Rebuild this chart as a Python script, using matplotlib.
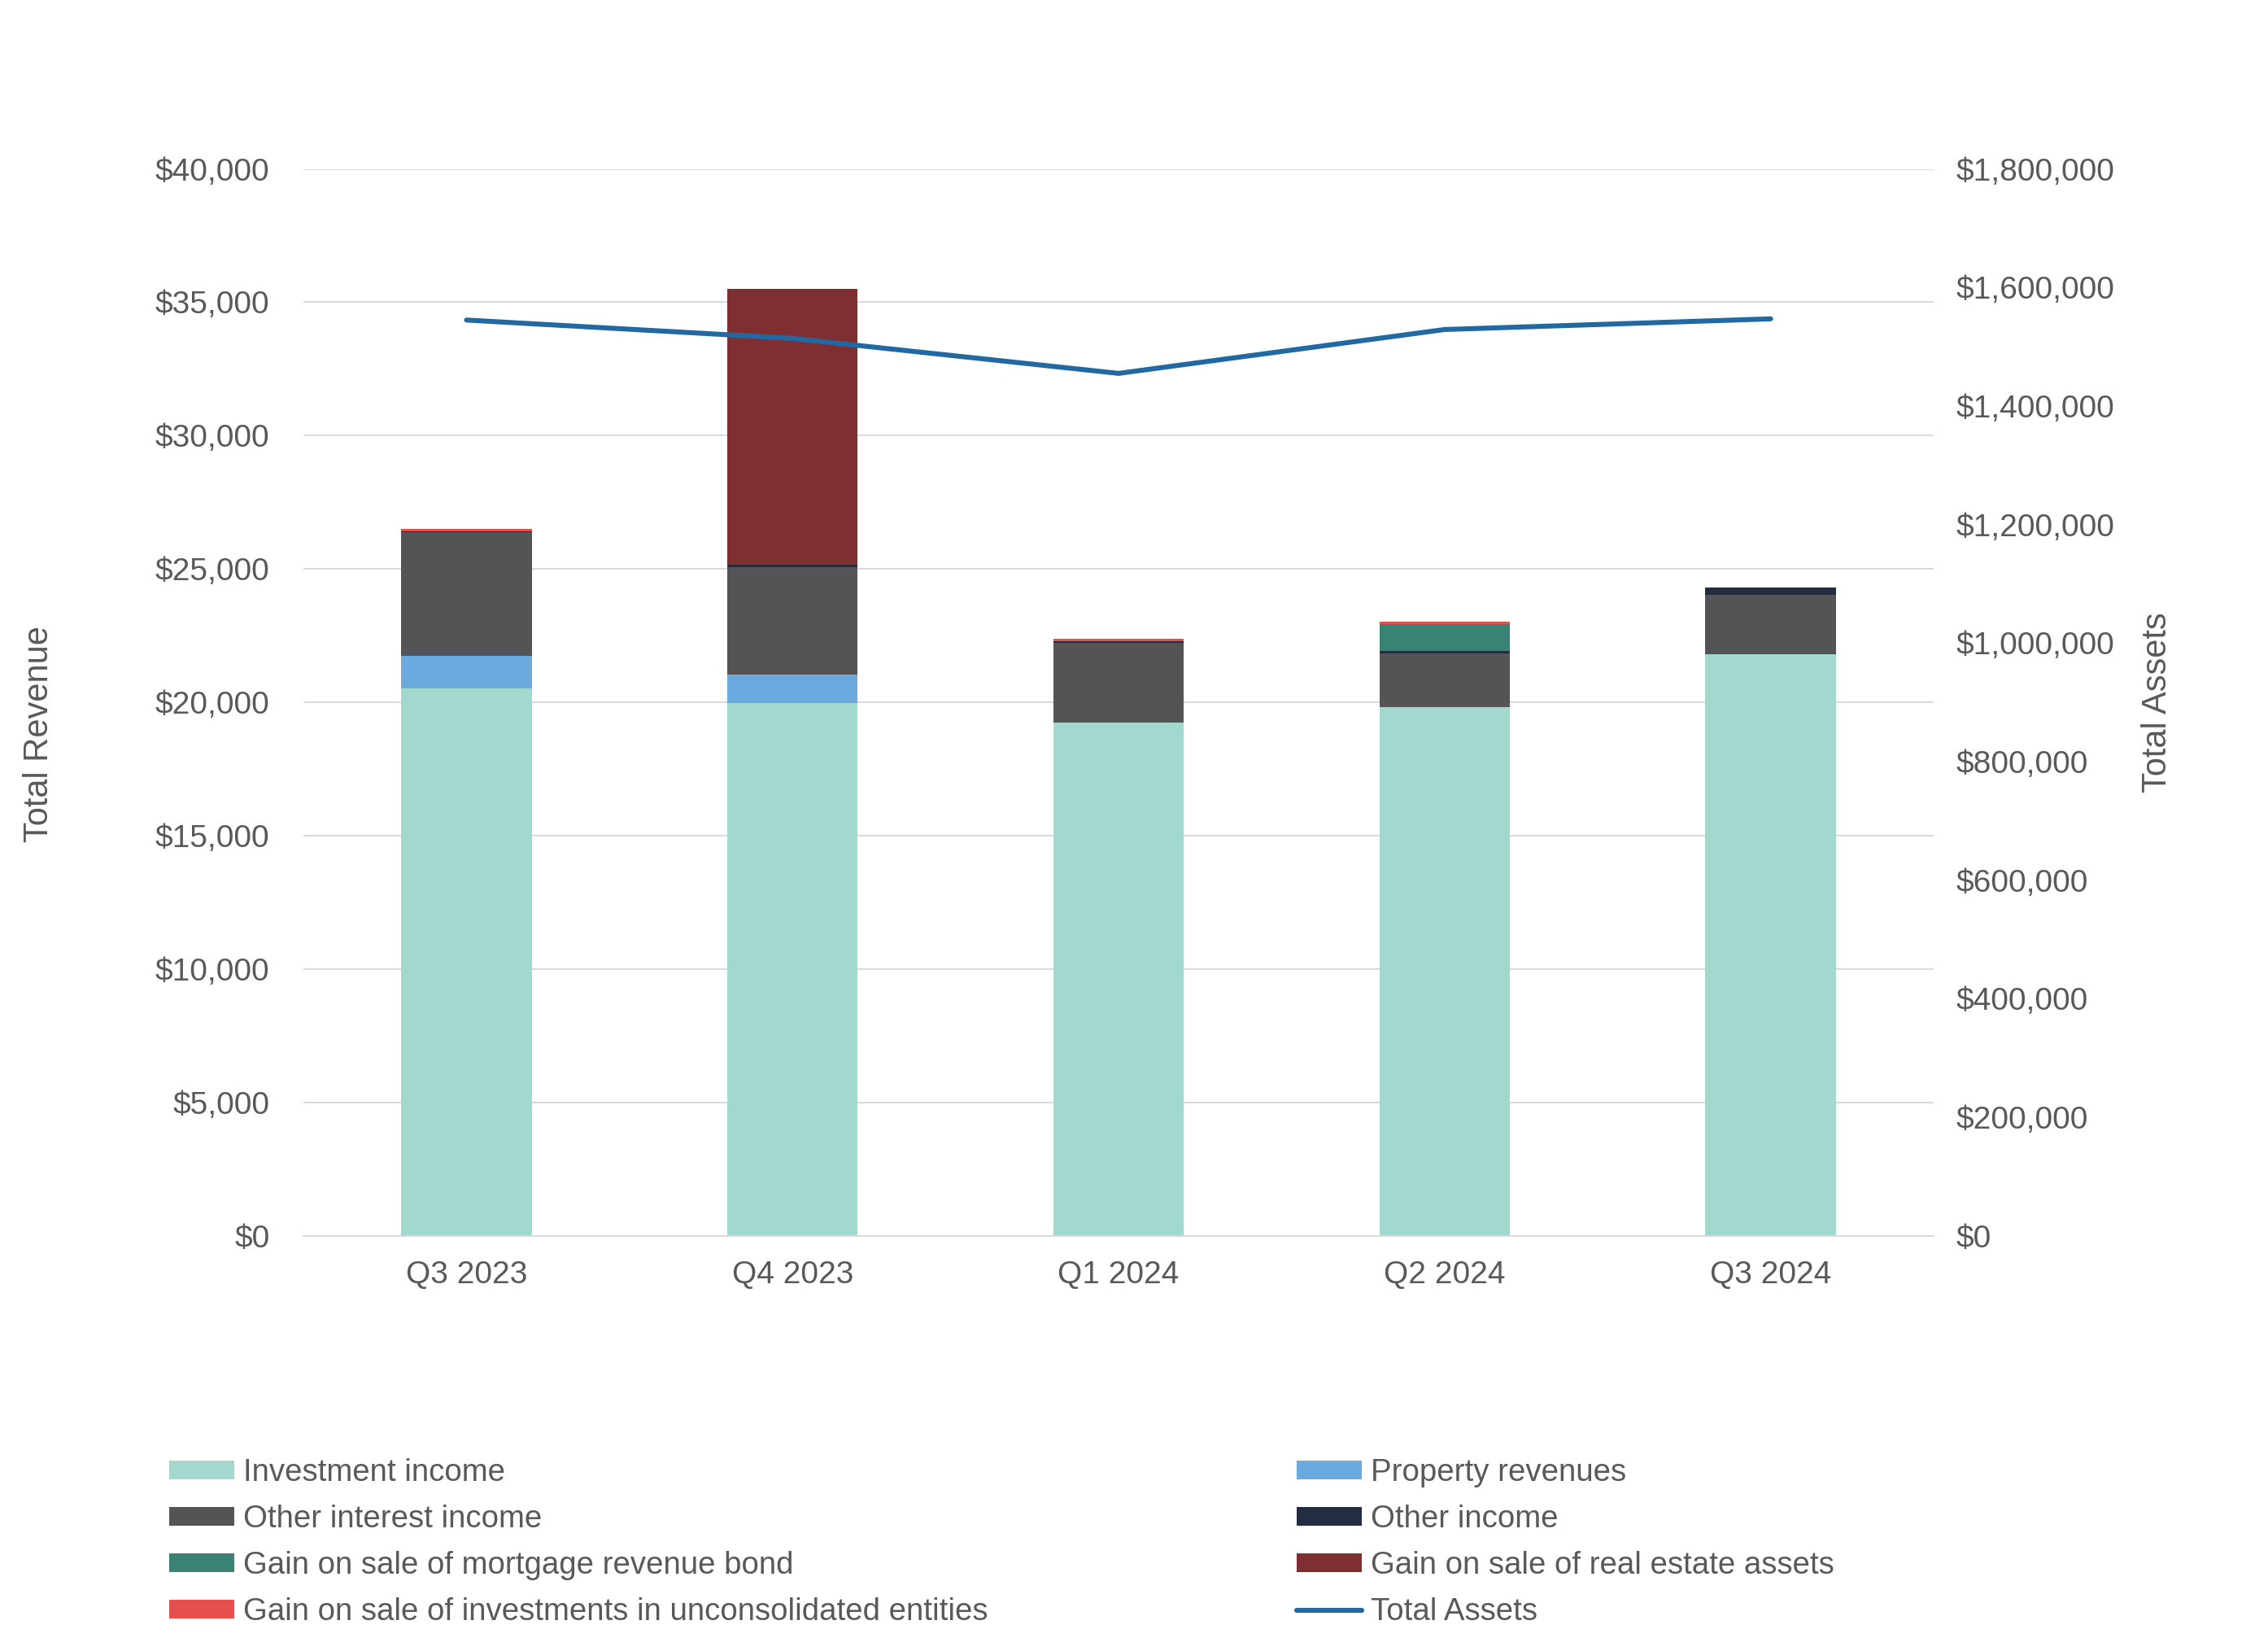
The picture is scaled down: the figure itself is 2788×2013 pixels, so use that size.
import numpy as np
import matplotlib.pyplot as plt
from matplotlib.patches import Patch
from matplotlib.lines import Line2D
from matplotlib.ticker import FuncFormatter

# donnees (en milliers de $ pour les barres)
quarters = ["Q3 2023", "Q4 2023", "Q1 2024", "Q2 2024", "Q3 2024"]
investment_income = [20520, 19980, 19250, 19810, 21820]
property_revenues = [1220, 1050, 0, 0, 0]
other_interest_income = [4640, 4040, 2980, 2040, 2210]
other_income = [30, 100, 70, 80, 280]
gain_mrb = [0, 0, 0, 1000, 0]
gain_real_estate = [0, 10340, 0, 0, 0]
gain_unconsolidated = [80, 0, 90, 110, 0]
total_assets = [1545000, 1514000, 1455000, 1529000, 1547000]

series = [
    ("Investment income", investment_income, "#A3D8CE"),
    ("Property revenues", property_revenues, "#6AAADE"),
    ("Other interest income", other_interest_income, "#545456"),
    ("Other income", other_income, "#232D42"),
    ("Gain on sale of mortgage revenue bond", gain_mrb, "#3A8374"),
    ("Gain on sale of real estate assets", gain_real_estate, "#7F2F31"),
    ("Gain on sale of investments in unconsolidated entities", gain_unconsolidated, "#E5504E"),
]
line_color = "#2369A1"
text_color = "#595959"

plt.rcParams['font.family'] = ['Liberation Sans', 'DejaVu Sans']

fig = plt.figure(figsize=(13.94, 10.065), dpi=200)
ax = fig.add_axes([0.1338, 0.2455, 0.7188, 0.6514])
ax2 = ax.twinx()

x = np.arange(len(quarters))
bottom = np.zeros(len(quarters))
for name, vals, col in series:
    v = np.array(vals, dtype=float)
    ax.bar(x, v, 0.4, bottom=bottom, color=col, zorder=2)
    bottom += v

ax2.plot(x, total_assets, color=line_color, lw=2.2, solid_capstyle='round', zorder=3)

ax.set_xlim(-0.5, len(quarters) - 0.5)
ax.set_ylim(0, 40000)
ax.set_yticks(np.arange(0, 40001, 5000))
ax2.set_ylim(0, 1800000)
ax2.set_yticks(np.arange(0, 1800001, 200000))

money = FuncFormatter(lambda v, p: "${:,.0f}".format(v))
ax.yaxis.set_major_formatter(money)
ax2.yaxis.set_major_formatter(money)
ax.set_xticks(x)
ax.set_xticklabels(quarters)

ax.grid(axis='y', color="#D9D9D9", lw=0.7, zorder=0)
ax.set_axisbelow(True)
for a in (ax, ax2):
    for s in a.spines.values():
        s.set_visible(False)
ax.spines['bottom'].set_visible(True)
ax.spines['bottom'].set_color("#D9D9D9")
ax.spines['bottom'].set_linewidth(0.7)

ax.tick_params(axis='y', length=0, pad=15, labelsize=14, labelcolor=text_color)
ax.tick_params(axis='x', length=0, pad=11, labelsize=14, labelcolor=text_color)
ax2.tick_params(axis='y', length=0, pad=10, labelsize=14, labelcolor=text_color)

ax.set_ylabel("Total Revenue", fontsize=15, color=text_color)
ax.yaxis.set_label_coords(-0.152, 0.47)
ax2.set_ylabel("Total Assets", fontsize=15, color=text_color, rotation=90)
ax2.yaxis.set_label_coords(1.127, 0.5)

# legende sur deux colonnes
h = {name: Patch(facecolor=col, edgecolor='none') for name, vals, col in series}
h["Total Assets"] = Line2D([0], [0], color=line_color, lw=2.2, solid_capstyle='round')
left_names = ["Investment income", "Other interest income",
              "Gain on sale of mortgage revenue bond",
              "Gain on sale of investments in unconsolidated entities"]
right_names = ["Property revenues", "Other income",
               "Gain on sale of real estate assets", "Total Assets"]
opts = dict(loc='upper left', frameon=False, fontsize=13.8, borderpad=0, borderaxespad=0,
            handlelength=2.08, handleheight=0.55, handletextpad=0.3, labelspacing=0.55,
            labelcolor=text_color)
fig.legend([h[n] for n in left_names], left_names, bbox_to_anchor=(0.0746, 0.1098), **opts)
fig.legend([h[n] for n in right_names], right_names, bbox_to_anchor=(0.5718, 0.1098), **opts)

fig.savefig("out.png", dpi=200)
